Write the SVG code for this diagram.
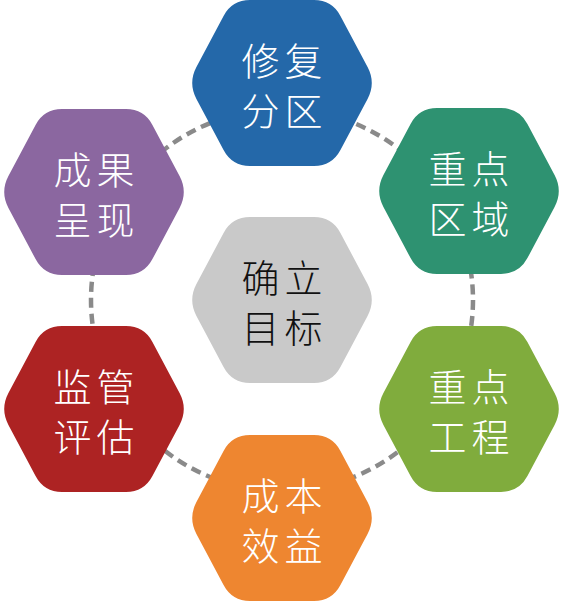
<svg xmlns="http://www.w3.org/2000/svg" xmlns:xlink="http://www.w3.org/1999/xlink" width="564" height="602" viewBox="0 0 564 602">
<style>
.lbl{font-family:"Noto Sans CJK SC","Noto Sans",sans-serif;font-size:38px;font-weight:300;fill:#ffffff;text-anchor:middle;letter-spacing:5px}
.dark{fill:#111111}
.conn{fill:none;stroke:#8a8a8a;stroke-width:4.5;stroke-dasharray:10 6}
</style>
<defs>
<path id="hex" d="M-32,-83 H32 Q50,-83 58.43,-67.09 L85.57,-15.91 Q94,0 85.57,15.91 L58.43,67.09 Q50,83 32,83 H-32 Q-50,83 -58.43,67.09 L-85.57,15.91 Q-94,0 -85.57,-15.91 L-58.43,-67.09 Q-50,-83 -32,-83 Z"/>
</defs>
<rect width="564" height="602" fill="#ffffff"/>
<g id="connectors">
<circle class="conn" cx="282" cy="300" r="191"/>
</g>
<g id="node-top" transform="translate(282,83)">
<use xlink:href="#hex" fill="#2468a9"/>
<text class="lbl" x="2.5" y="-8">修复</text>
<text class="lbl" x="2.5" y="42">分区</text>
</g>
<g id="node-upper-right" transform="translate(469,191)">
<use xlink:href="#hex" fill="#2e9271"/>
<text class="lbl" x="2.5" y="-8">重点</text>
<text class="lbl" x="2.5" y="42">区域</text>
</g>
<g id="node-lower-right" transform="translate(469,409)">
<use xlink:href="#hex" fill="#80ac3d"/>
<text class="lbl" x="2.5" y="-8">重点</text>
<text class="lbl" x="2.5" y="42">工程</text>
</g>
<g id="node-bottom" transform="translate(282,518)">
<use xlink:href="#hex" fill="#ee8630"/>
<text class="lbl" x="2.5" y="-8">成本</text>
<text class="lbl" x="2.5" y="42">效益</text>
</g>
<g id="node-lower-left" transform="translate(94,409)">
<use xlink:href="#hex" fill="#ad2323"/>
<text class="lbl" x="2.5" y="-8">监管</text>
<text class="lbl" x="2.5" y="42">评估</text>
</g>
<g id="node-upper-left" transform="translate(94,192)">
<use xlink:href="#hex" fill="#8b67a0"/>
<text class="lbl" x="2.5" y="-8">成果</text>
<text class="lbl" x="2.5" y="42">呈现</text>
</g>
<g id="node-center" transform="translate(282,300)">
<use xlink:href="#hex" fill="#c9c9c9"/>
<text class="lbl dark" x="2.5" y="-8">确立</text>
<text class="lbl dark" x="2.5" y="42">目标</text>
</g>
</svg>
